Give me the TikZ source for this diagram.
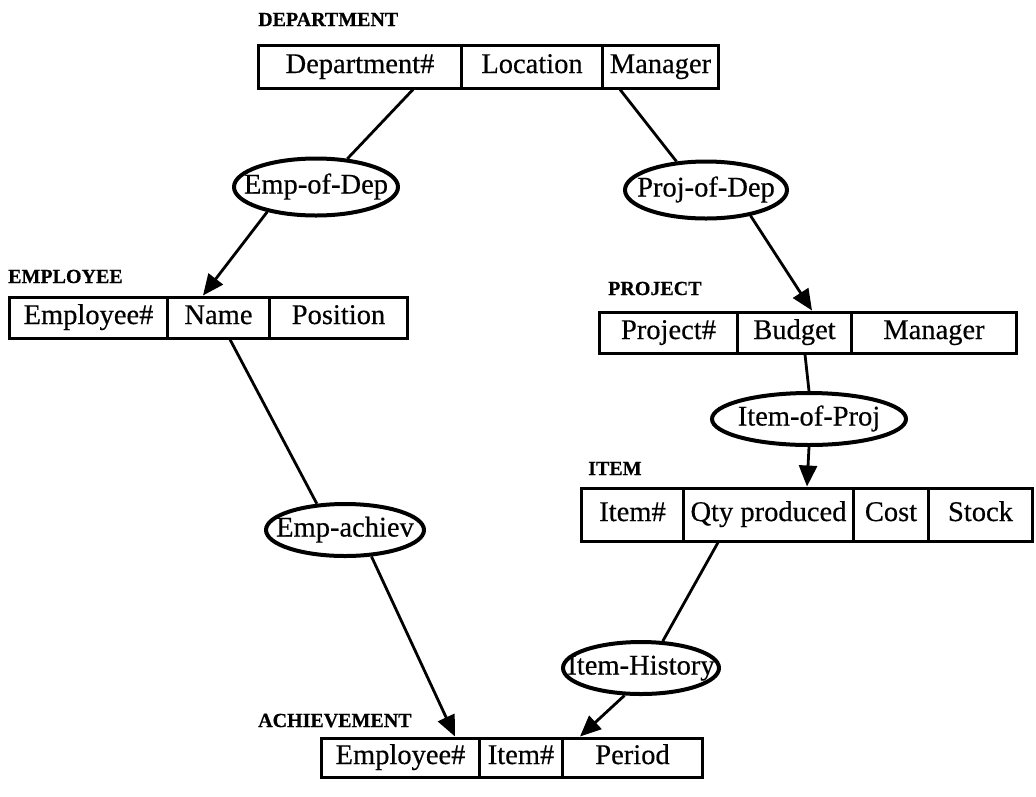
\documentclass[tikz,border=0pt]{standalone}
\usepackage{fontspec}
\setmainfont{Liberation Serif}[FakeBold=0.4]
\newfontfamily\titlefont{Liberation Serif}[FakeBold=0.6]
\usetikzlibrary{arrows.meta,shapes.geometric}
\begin{document}
\begin{tikzpicture}[x=1pt,y=-1pt,
  cell/.style={draw, rectangle, line width=3pt, anchor=west, inner sep=0pt,
    text height=19pt, text depth=6pt,
    font=\fontsize{28.5}{32}\selectfont},
  rel/.style={draw, ellipse, line width=4pt, inner sep=0pt,
    text height=19pt, text depth=6pt,
    font=\fontsize{28.5}{32}\selectfont},
  title/.style={anchor=base west, inner sep=0pt,
    font=\fontsize{20}{23}\titlefont\bfseries},
  link/.style={line width=2.8pt},
  arc/.style={line width=2.8pt, -{Triangle[length=21pt,width=18pt]}}
]
\useasboundingbox (0,0) rectangle (1036,796);

% DEPARTMENT
\node[title] (tdep) at (258,26) {DEPARTMENT};
\node[cell, minimum width=203, minimum height=43] (d1) at (257,66.5) {Department\#};
\node[cell, minimum width=141, minimum height=43] (d2) at (460,66.5) {Location};
\node[cell, minimum width=116, minimum height=43] (d3) at (601,66.5) {Manager};

% EMPLOYEE
\node[title] (temp) at (8,283) {EMPLOYEE};
\node[cell, minimum width=158, minimum height=41] (e1) at (8,317.5) {Employee\#};
\node[cell, minimum width=102, minimum height=41] (e2) at (166,317.5) {Name};
\node[cell, minimum width=138, minimum height=41] (e3) at (268,317.5) {Position};

% PROJECT
\node[title] (tproj) at (608,295) {PROJECT};
\node[cell, minimum width=138, minimum height=41] (p1) at (598,332.5) {Project\#};
\node[cell, minimum width=114, minimum height=41] (p2) at (736,332.5) {Budget};
\node[cell, minimum width=165, minimum height=41] (p3) at (850,332.5) {Manager};

% ITEM
\node[title] (titem) at (588,475) {ITEM};
\node[cell, minimum width=102, minimum height=53] (i1) at (580,514.5) {Item\#};
\node[cell, minimum width=170, minimum height=53] (i2) at (682,514.5) {Qty produced};
\node[cell, minimum width=75,  minimum height=53] (i3) at (852,514.5) {Cost};
\node[cell, minimum width=104, minimum height=53] (i4) at (927,514.5) {Stock};

% ACHIEVEMENT
\node[title] (tach) at (258,727) {ACHIEVEMENT};
\node[cell, minimum width=158, minimum height=39] (a1) at (320,757.5) {Employee\#};
\node[cell, minimum width=83,  minimum height=39] (a2) at (478,757.5) {Item\#};
\node[cell, minimum width=140, minimum height=39] (a3) at (561,757.5) {Period};

% relationships
\node[rel, minimum width=164, minimum height=57] (r1) at (316,187) {\makebox[0pt]{Emp-of-Dep}};
\node[rel, minimum width=162, minimum height=57] (r2) at (706,190) {\makebox[0pt]{Proj-of-Dep}};
\node[rel, minimum width=194, minimum height=52] (r3) at (809,419) {\makebox[0pt]{Item-of-Proj}};
\node[rel, minimum width=158, minimum height=52] (r4) at (345,530) {\makebox[0pt]{Emp-achiev}};
\node[rel, minimum width=156, minimum height=52] (r5) at (641,668) {\makebox[0pt]{Item-History}};

% connectors
\draw[link] ([xshift=-50pt]d1.south east) -- (r1.42);
\draw[arc]  (r1.207) -- ([xshift=37pt]e2.north west);
\draw[link] ([xshift=19pt]d3.south west) -- (r2.136);
\draw[arc]  (r2.330) -- ([xshift=76pt]p2.north west);
\draw[link] ([xshift=69pt]p2.south west) -- (r3.north);
\draw[arc]  (r3.south) -- ([xshift=125pt]i2.north west);
\draw[link] ([xshift=64pt]e2.south west) -- (r4.137);
\draw[arc]  (r4.-45) -- ([xshift=135pt]a1.north west);
\draw[link] ([xshift=36pt]i2.south west) -- (r5.51);
\draw[arc]  (r5.239) -- ([xshift=19pt]a3.north west);
\end{tikzpicture}
\end{document}
